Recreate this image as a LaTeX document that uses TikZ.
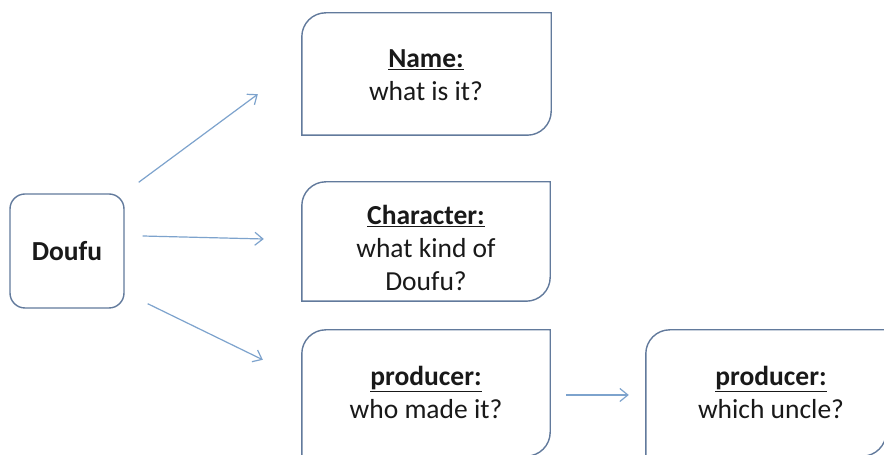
\documentclass[tikz,border=0pt]{standalone}
\usepackage{fontspec}
\setmainfont{Carlito}
\usetikzlibrary{arrows.meta}
\definecolor{boxedge}{RGB}{98,122,156}
\definecolor{arrowblue}{RGB}{125,163,205}
\definecolor{ink}{RGB}{25,25,25}
\newcommand\diagcornerbox[1]{%
  \draw[boxline] (#1.south west) -- ([yshift=-24pt]#1.north west)
    arc[start angle=180,end angle=90,radius=24pt] -- (#1.north east)
    -- ([yshift=24pt]#1.south east)
    arc[start angle=0,end angle=-90,radius=24pt] -- cycle;}
\begin{document}
\begin{tikzpicture}[x=1pt,y=1pt,
  area/.style={rectangle,draw=none,inner sep=0pt},
  boxline/.style={draw=boxedge,line width=1.4pt,fill=white},
  txt/.style={align=center,text=ink,inner sep=0pt,font=\fontsize{27.5}{33}\selectfont},
  conn/.style={draw=arrowblue,line width=1.2pt,-{Straight Barb[length=8pt,width=13pt,line width=1.2pt]}}]
\useasboundingbox[fill=white] (0,0) rectangle (884,455);
% boxes
\node[area,minimum width=249pt,minimum height=122pt] (name) at (426.5,381) {};
\node[area,minimum width=248pt,minimum height=119pt] (char) at (426,213.5) {};
\node[area,minimum width=248pt,minimum height=126pt] (prod) at (426,62) {};
\node[area,minimum width=240pt,minimum height=126pt] (uncle) at (766,62) {};
\diagcornerbox{name}
\diagcornerbox{char}
\diagcornerbox{prod}
\diagcornerbox{uncle}
\node[area,minimum width=114pt,minimum height=114pt,rounded corners=15pt,
  draw=boxedge,line width=1.4pt,txt] (doufu) at (67,204) {\bfseries Doufu};
% texts
\node[txt] (nametxt) at (426,380) {\textbf{\underline{Name:}}\\what is it?};
\node[txt] (chartxt) at (426,207) {\textbf{\underline{Character:}}\\what kind of\\Doufu?};
\node[txt] (prodtxt) at (426,63) {\textbf{\underline{producer:}}\\who made it?};
\node[txt] (uncletxt) at (771,63) {\textbf{\underline{producer:}}\\which uncle?};
% connectors
\draw[conn] ([xshift=14pt,yshift=11pt]doufu.north east) -- ([xshift=-44pt,yshift=41pt]name.south west);
\draw[conn] ([xshift=18pt,yshift=15pt]doufu.east) -- ([xshift=-38pt,yshift=2.5pt]char.west);
\draw[conn] ([xshift=23pt,yshift=5pt]doufu.south east) -- ([xshift=-39pt,yshift=-30pt]prod.north west);
\draw[conn] ([xshift=16pt,yshift=-2pt]prod.east) -- ([xshift=-17pt,yshift=-2pt]uncle.west);
\end{tikzpicture}
\end{document}
